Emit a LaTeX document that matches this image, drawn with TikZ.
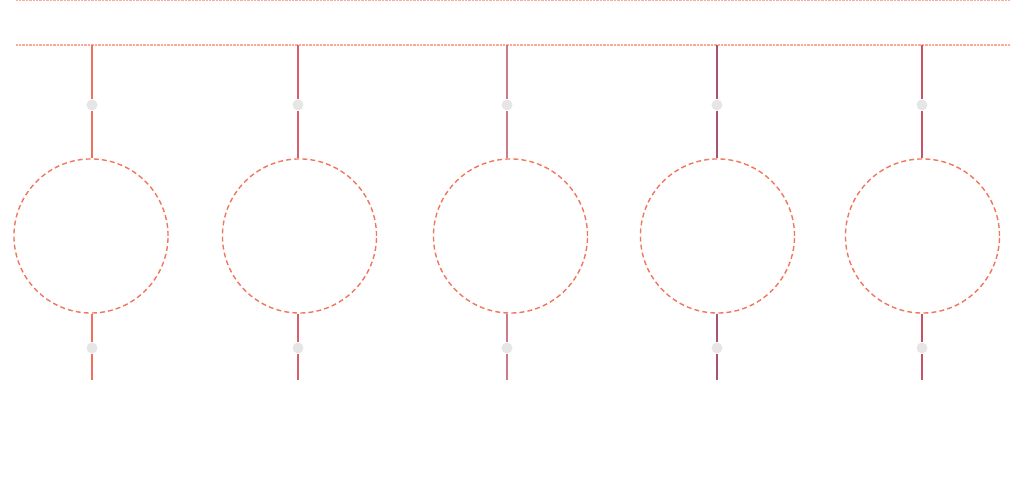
\documentclass[tikz,border=0pt]{standalone}
\usepackage{xcolor}
\definecolor{railc}{HTML}{FAAA98}
\definecolor{ringc}{HTML}{F2765E}
\definecolor{dotc}{HTML}{E6E6E6}
\definecolor{wirea}{HTML}{F0705C}
\definecolor{wireb}{HTML}{D8606C}
\definecolor{wirec}{HTML}{D07888}
\definecolor{wired}{HTML}{A8546E}
\definecolor{wiree}{HTML}{C85266}
\begin{document}
\begin{tikzpicture}[x=0.01cm, y=-0.01cm,
    rail/.style={railc, line width=0.5pt, dash pattern=on 0.25pt off 0.15pt},
    ring/.style={draw=ringc, circle, dashed, dash pattern=on 1.4pt off 0.9pt, line width=0.4pt, minimum size=1.54cm, inner sep=0pt},
    bead/.style={fill=dotc, circle, inner sep=0pt, minimum size=0.11cm},
    wire/.style={line width=0.45pt}]
      \useasboundingbox (0,0) rectangle (1023,504);

      % Trilhos
      \coordinate (r1) at (16,0);
      \coordinate (r2) at (1010,0);
      \coordinate (s1) at (16,45);
      \coordinate (s2) at (1010,45);
      \draw[rail] (r1) -- (r2);
      \draw[rail] (s1) -- (s2);

      % Circulos
      \node[ring] (c1) at (91,236) {};
      \node[ring] (c2) at (299.5,236) {};
      \node[ring] (c3) at (510.5,236) {};
      \node[ring] (c4) at (717.5,236) {};
      \node[ring] (c5) at (922.5,236) {};

      % Pontos de cima
      \node[bead] (u1) at (92,105) {};
      \node[bead] (u2) at (298,105) {};
      \node[bead] (u3) at (507,105) {};
      \node[bead] (u4) at (717,105) {};
      \node[bead] (u5) at (922,105) {};

      % Pontos de baixo
      \node[bead] (d1) at (92,348) {};
      \node[bead] (d2) at (298,348) {};
      \node[bead] (d3) at (507,348) {};
      \node[bead] (d4) at (717,348) {};
      \node[bead] (d5) at (922,348) {};

      % Pontas dos fios
      \coordinate (t1) at (92,45);
      \coordinate (t2) at (298,45);
      \coordinate (t3) at (507,45);
      \coordinate (t4) at (717,45);
      \coordinate (t5) at (922,45);
      \coordinate (e1) at (92,380);
      \coordinate (e2) at (298,380);
      \coordinate (e3) at (507,380);
      \coordinate (e4) at (717,380);
      \coordinate (e5) at (922,380);

      % Fios
      \draw[wire, wirea] (t1) -- (u1) -- (u1 |- c1.north);
      \draw[wire, wirea] (u1 |- c1.south) -- (d1) -- (e1);
      \draw[wire, wireb] (t2) -- (u2) -- (u2 |- c2.north);
      \draw[wire, wireb] (u2 |- c2.south) -- (d2) -- (e2);
      \draw[wire, wirec] (t3) -- (u3) -- (u3 |- c3.north);
      \draw[wire, wirec] (u3 |- c3.south) -- (d3) -- (e3);
      \draw[wire, wired] (t4) -- (u4) -- (u4 |- c4.north);
      \draw[wire, wired] (u4 |- c4.south) -- (d4) -- (e4);
      \draw[wire, wiree] (t5) -- (u5) -- (u5 |- c5.north);
      \draw[wire, wiree] (u5 |- c5.south) -- (d5) -- (e5);

    \end{tikzpicture}
\end{document}
